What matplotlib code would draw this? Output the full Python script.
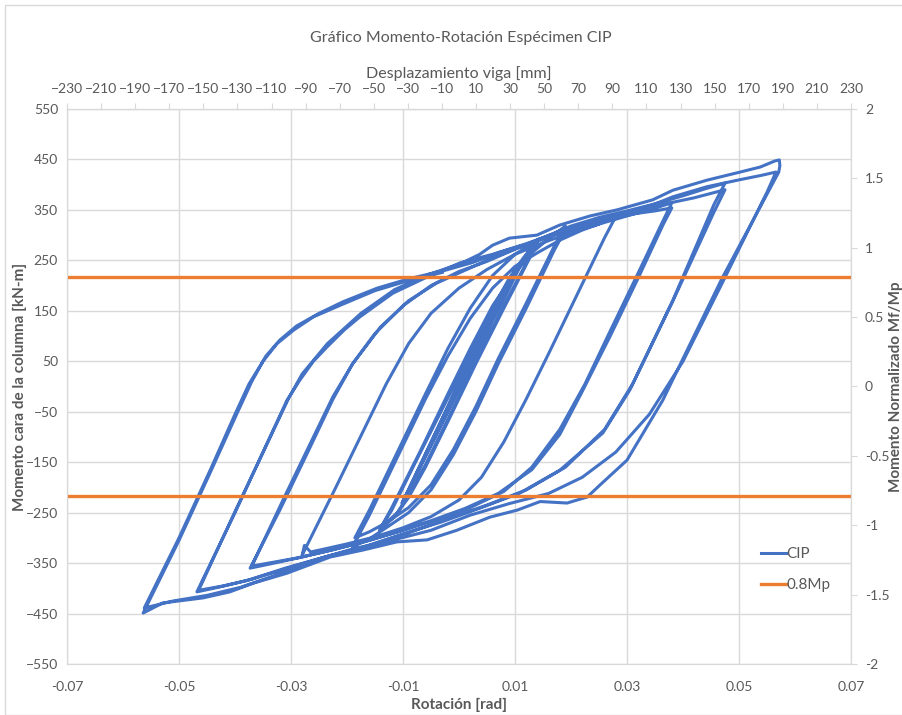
import numpy as np
import matplotlib.pyplot as plt
from matplotlib.patches import Rectangle

# ---- datos (rotacion [rad], momento [kN-m]) ----
rot_virgen = [0.0, 0.0045]
mom_virgen = [0, 100]

rot_n1 = [-0.0045, 0.0045, -0.0047]
mom_n1 = [-105, 102, -108]

rot_n2 = [0.007, -0.007, 0.007, -0.0072]
mom_n2 = [165, -160, 168, -165]

rot_n3 = [0.005, 0.0095, 0.005, -0.005, -0.010, -0.005, 0.005, 0.0098, 0.005, -0.005, -0.0102]
mom_n3 = [130, 222, 120, -110, -228, -115, 118, 226, 118, -112, -232]

rot_n4 = [-0.004, 0.002, 0.006, 0.009, 0.011, 0.0125, 0.014,
          0.0125, 0.008, 0.003, -0.002, -0.006, -0.009, -0.011, -0.014,
          -0.012, -0.008, -0.003, 0.002, 0.006, 0.009, 0.0115, 0.0142,
          0.0125, 0.008, 0.003, -0.002, -0.006, -0.009, -0.0115, -0.0142]
mom_n4 = [-95, 40, 130, 195, 240, 270, 290,
          255, 160, 50, -65, -155, -215, -250, -280,
          -245, -155, -45, 65, 155, 215, 255, 292,
          252, 155, 45, -70, -160, -220, -258, -285]

rot_n5 = [-0.012, -0.007, -0.002, 0.002, 0.006, 0.010, 0.013, 0.016, 0.019,
          0.017, 0.012, 0.007, 0.003, -0.001, -0.005, -0.009, -0.013, -0.016, -0.0186,
          -0.016, -0.011, -0.006, -0.002, 0.002, 0.006, 0.010, 0.014, 0.017, 0.0192,
          0.017, 0.012, 0.007, 0.003, -0.001, -0.005, -0.009, -0.013, -0.016, -0.019]
mom_n5 = [-240, -130, -15, 75, 160, 225, 265, 293, 318,
          278, 165, 55, -40, -125, -195, -240, -270, -288, -300,
          -245, -130, -15, 75, 155, 220, 262, 290, 303, 315,
          270, 155, 45, -50, -135, -205, -250, -280, -302, -318]

rot_n6 = [-0.016, -0.011, -0.006, -0.002, 0.002, 0.006, 0.010, 0.014, 0.018, 0.022, 0.025, 0.028,
          0.026, 0.021, 0.016, 0.012, 0.008, 0.004, 0.000, -0.005, -0.010, -0.015, -0.020,
          -0.024, -0.0265, -0.0276, -0.028]
mom_n6 = [-255, -140, -25, 60, 135, 195, 238, 265, 290, 310, 322, 337,
          295, 180, 65, -25, -110, -180, -225, -258, -280, -298, -312,
          -322, -328, -315, -334]

rot_n7 = [-0.022, -0.0165, -0.013, -0.009, -0.005, 0.000, 0.005, 0.010, 0.015, 0.020, 0.025, 0.030, 0.034, 0.038,
          0.0365, 0.032, 0.027, 0.0225, 0.018, 0.013, 0.008, 0.002, -0.004, -0.010, -0.016, -0.022, -0.028, -0.033, -0.0373,
          -0.032, -0.027, -0.0225, -0.019, -0.014, -0.009, -0.004, 0.001, 0.006, 0.011, 0.016, 0.021, 0.026, 0.031, 0.035, 0.038,
          0.0365, 0.032, 0.027, 0.022, 0.018, 0.013, 0.007, 0.001, -0.005, -0.011, -0.017, -0.023, -0.029, -0.034, -0.037]
mom_n7 = [-200, -75, 5, 85, 145, 195, 232, 262, 285, 305, 322, 338, 350, 364,
          330, 225, 110, 5, -85, -160, -208, -240, -264, -285, -305, -322, -338, -350, -360,
          -245, -130, -25, 45, 118, 170, 205, 230, 255, 277, 297, 315, 330, 342, 348, 354,
          322, 215, 100, -10, -95, -165, -212, -242, -266, -288, -308, -325, -340, -350, -356]

rot_n8 = [-0.031, -0.026, -0.0225, -0.019, -0.015, -0.010, -0.005, 0.000, 0.005, 0.010, 0.015, 0.020,
          0.025, 0.030, 0.035, 0.040, 0.044, 0.0475,
          0.0455, 0.0382, 0.0305, 0.0257, 0.018, 0.0109, 0.004, -0.003, -0.010, -0.017, -0.024,
          -0.031, -0.038, -0.043, -0.0468,
          -0.040, -0.0307, -0.0284, -0.026, -0.0236, -0.0205, -0.0177, -0.0118, -0.0057, 0.0002,
          0.006, 0.012, 0.018, 0.024, 0.030, 0.036, 0.042, 0.0475,
          0.0455, 0.038, 0.031, 0.026, 0.019, 0.012, 0.005, -0.002, -0.009, -0.016, -0.023,
          -0.030, -0.037, -0.042, -0.0465]
mom_n8 = [-215, -100, -20, 45, 105, 160, 200, 228, 248, 272, 295, 318,
          335, 348, 362, 378, 392, 403,
          360, 171, -7, -92, -166, -211, -240, -268, -292, -318, -338,
          -360, -385, -398, -407,
          -250, -27, 13, 50, 78, 112, 138, 185, 217, 245,
          262, 283, 307, 328, 344, 360, 374, 390,
          345, 165, 5, -85, -160, -205, -235, -262, -290, -315, -335,
          -358, -382, -395, -404]

rot_n9 = [-0.040, -0.0305, -0.028, -0.0235, -0.0175, -0.0115, -0.0055, 0.000, 0.0037, 0.006, 0.009, 0.0139,
          0.018, 0.0234, 0.0282, 0.0346, 0.0382, 0.0443, 0.0502, 0.0538, 0.0564, 0.0572, 0.0573,
          0.0571, 0.047, 0.0364, 0.030, 0.0252, 0.0229, 0.0193, 0.0145, 0.0104, 0.0055, -0.0004,
          -0.0057, -0.0111, -0.0171, -0.0230, -0.0307, -0.0368, -0.0409, -0.0457, -0.0529, -0.0564,
          -0.050, -0.0444, -0.0395, -0.037, -0.0345, -0.032, -0.029, -0.025, -0.0207, -0.0146,
          -0.0088, -0.0029, 0.0025,
          0.0073, 0.0139, 0.018, 0.0234, 0.0282, 0.0346, 0.0382, 0.0443, 0.0502, 0.0538, 0.0566,
          0.055, 0.047, 0.040, 0.034, 0.028, 0.022, 0.016, 0.009, 0.002, -0.005, -0.012, -0.019,
          -0.026, -0.033, -0.039, -0.045, -0.051, -0.0562,
          -0.050, -0.0444, -0.040, -0.0375, -0.035, -0.0325, -0.0295, -0.026, -0.021, -0.015,
          -0.009, -0.003]
mom_n9 = [-248, -25, 25, 85, 145, 192, 222, 242, 262, 280, 294, 300,
          320, 338, 350, 370, 389, 409, 425, 435, 447, 449, 438,
          425, 215, -27, -146, -195, -219, -231, -228, -245, -259, -285,
          -304, -308, -324, -338, -370, -390, -407, -419, -429, -449,
          -305, -170, -50, 10, 60, 92, 120, 145, 168, 195,
          214, 229, 246,
          266, 288, 304, 324, 340, 360, 376, 396, 410, 418, 425,
          385, 205, 50, -55, -130, -180, -212, -232, -255, -285, -305, -322,
          -345, -375, -398, -414, -425, -439,
          -300, -165, -55, 5, 50, 85, 112, 138, 162, 190,
          210, 226]

mp_08 = 218  # 0.8Mp [kN-m]

x_ticks = [-0.07, -0.05, -0.03, -0.01, 0.01, 0.03, 0.05, 0.07]
y_ticks = list(range(-550, 551, 100))
mm_ticks = list(range(-230, 231, 20))
norm_ticks = [-2, -1.5, -1, -0.5, 0, 0.5, 1, 1.5, 2]

rot = np.concatenate([rot_virgen, rot_n1, rot_n2, rot_n3, rot_n4, rot_n5, rot_n6, rot_n7, rot_n8, rot_n9])
mom = np.concatenate([mom_virgen, mom_n1, mom_n2, mom_n3, mom_n4, mom_n5, mom_n6, mom_n7, mom_n8, mom_n9])

plt.rcParams['font.family'] = ['Lato', 'DejaVu Sans']
gris = '#595959'

fig = plt.figure(figsize=(9.02, 7.15), dpi=100)
ax = fig.add_axes([67/902, 1-664/715, 784/902, 555/715])

ax.plot(rot, mom, color='#4472C4', lw=2.2, label='CIP', solid_joinstyle='round', zorder=3)
ax.axhline(mp_08, color='#ED7D31', lw=2.4, label='0.8Mp', zorder=4)
ax.axhline(-mp_08, color='#ED7D31', lw=2.4, zorder=4)

ax.set_xlim(-0.07, 0.07)
ax.set_ylim(-550, 550)
ax.set_xticks(x_ticks)
ax.set_xticklabels([f'{v:g}' for v in x_ticks])
ax.set_yticks(y_ticks)
ax.grid(True, color='#d9d9d9', lw=1, zorder=0)
ax.tick_params(length=0, labelsize=10, colors=gris, pad=12)
ax.tick_params(axis='y', pad=6.5)
for s in ax.spines.values():
    s.set_color('#d9d9d9')
ax.set_xlabel('Rotación [rad]', fontsize=11, fontweight='bold', color=gris, labelpad=4)
ax.set_ylabel('Momento cara de la columna [kN-m]', fontsize=11, fontweight='bold', color=gris)
ax.yaxis.set_label_coords((27-67)/784, 0.5)

top = ax.secondary_xaxis('top', functions=(lambda r: r*230/0.07, lambda d: d*0.07/230))
top.set_xticks(mm_ticks)
top.tick_params(length=4, color='#d9d9d9', labelsize=10, colors=gris, pad=6)
top.spines['top'].set_color('#d9d9d9')
top.set_xlabel('Desplazamiento viga [mm]', fontsize=11.5, color=gris, labelpad=4)

ax2 = ax.twinx()
ax2.set_ylim(-2, 2)
ax2.set_yticks(norm_ticks)
ax2.set_yticklabels([f'{v:g}' for v in norm_ticks])
ax2.tick_params(length=4, color='#d9d9d9', labelsize=10, colors=gris, pad=6)
for s in ax2.spines.values():
    s.set_color('#d9d9d9')
ax2.set_ylabel('Momento Normalizado Mf/Mp', fontsize=11, fontweight='bold', color=gris)
ax2.yaxis.set_label_coords((889-67)/784, 0.5)

ax.legend(loc='upper left', bbox_to_anchor=(0.868, 0.235), frameon=False, fontsize=11,
          handlelength=1.6, handletextpad=0.05, labelspacing=1.1, labelcolor=gris)

fig.text(461/902, 1-38/715, 'Gráfico Momento-Rotación Espécimen CIP', ha='center', va='center',
         fontsize=11.5, color=gris)
fig.add_artist(Rectangle((5/902, 0), 1, 1-5/715, transform=fig.transFigure,
                         fill=False, edgecolor='#d9d9d9', lw=1))

fig.savefig('out.png', dpi=100)
